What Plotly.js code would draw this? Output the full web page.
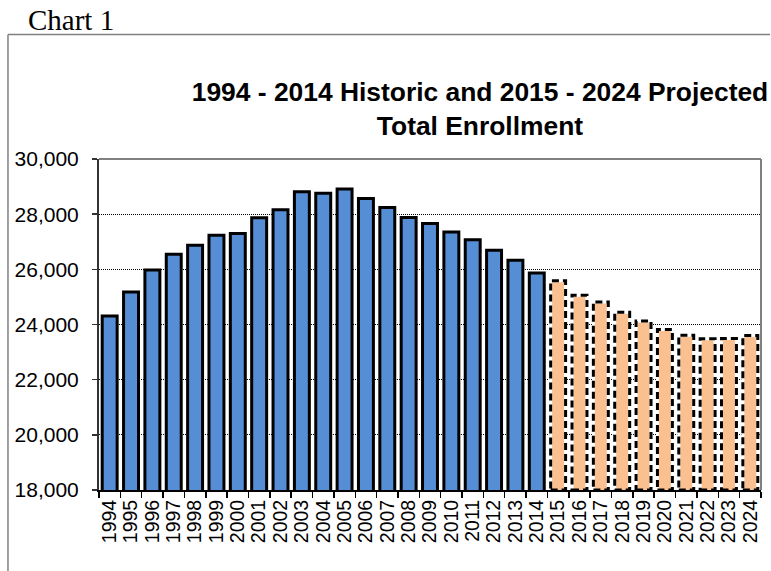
<!DOCTYPE html>
<html>
<head>
<meta charset="utf-8">
<script src="https://cdn.plot.ly/plotly-3.0.1.min.js"></script>
<style>
  html, body { margin: 0; padding: 0; background: #fff; }
  #chart { width: 771px; height: 571px; }
</style>
</head>
<body>
<div id="chart"></div>
<script>
// ---- Data ----
var historicYears = ["1994","1995","1996","1997","1998","1999","2000","2001","2002","2003","2004","2005","2006","2007","2008","2009","2010","2011","2012","2013","2014"];
var historicValues = [24310, 25180, 25980, 26550, 26870, 27240, 27300, 27870, 28160, 28810, 28760, 28910, 28570, 28240, 27880, 27660, 27350, 27070, 26690, 26330, 25870];
var projectedYears = ["2015","2016","2017","2018","2019","2020","2021","2022","2023","2024"];
var projectedValues = [25590, 25060, 24820, 24440, 24130, 23820, 23610, 23480, 23490, 23600];
var titleLines = ["1994 - 2014 Historic and 2015 - 2024 Projected", "Total Enrollment"];
var chartLabel = "Chart 1";

// ---- Style ----
var BAR_GAP = 0.3;
var Y_MIN = 18000, Y_MAX = 30000;
var allYears = historicYears.concat(projectedYears);

var traces = [
  {
    type: "bar",
    name: "Historic",
    x: historicYears,
    y: historicValues,
    marker: { color: "#558ED5", line: { color: "#000000", width: 3 } },
    hoverinfo: "x+y"
  },
  {
    type: "bar",
    name: "Projected",
    x: projectedYears,
    y: projectedValues,
    marker: { color: "#FAC090", line: { color: "#FFFFFF", width: 3 } },
    hoverinfo: "x+y"
  }
];

// dashed outlines for projected bars, positioned on the category axis by index
var half = (1 - BAR_GAP) / 2;
var shapes = projectedValues.map(function (v, j) {
  var idx = historicYears.length + j;
  return {
    type: "rect", xref: "x", yref: "y", layer: "above",
    x0: idx - half, x1: idx + half, y0: Y_MIN, y1: v,
    line: { color: "#000000", width: 3, dash: "7px,4px" },
    fillcolor: "rgba(0,0,0,0)"
  };
});
// plot frame (top & right, gray)
shapes.push({ type: "line", xref: "paper", yref: "paper", x0: 0, x1: 1, y0: 1, y1: 1,
  line: { color: "#808080", width: 2 } });
shapes.push({ type: "line", xref: "paper", yref: "paper", x0: 1, x1: 1, y0: 0, y1: 1,
  line: { color: "#808080", width: 2 } });
// outer chart border (top & left)
shapes.push({ type: "line", xref: "paper", yref: "paper", x0: -0.1375, x1: 1.0136, y0: 1.3759, y1: 1.3759,
  line: { color: "#808080", width: 1.5 } });
shapes.push({ type: "line", xref: "paper", yref: "paper", x0: -0.1375, x1: -0.1375, y0: -0.3, y1: 1.3759,
  line: { color: "#808080", width: 1.5 } });

var layout = {
  width: 771,
  height: 571,
  margin: { l: 99, r: 10, t: 159, b: 81, pad: 0 },
  paper_bgcolor: "#FFFFFF",
  plot_bgcolor: "#FFFFFF",
  showlegend: false,
  barmode: "overlay",
  bargap: BAR_GAP,
  font: { family: "Liberation Sans, Arial, sans-serif", color: "#000000" },
  title: {
    text: "<b>" + titleLines.join("<br>") + "</b>",
    font: { family: "Liberation Sans, Arial, sans-serif", size: 26.4, color: "#000000" },
    xref: "paper", x: 0.5755, xanchor: "center",
    yref: "container", y: 1 - 101 / 571, yanchor: "top"
  },
  xaxis: {
    type: "category",
    categoryorder: "array",
    categoryarray: allYears,
    tickmode: "array",
    tickvals: allYears,
    ticktext: allYears,
    tickson: "boundaries",
    ticks: "outside",
    ticklen: 6,
    tickwidth: 1.5,
    tickcolor: "#000000",
    tickangle: -90,
    tickfont: { size: 19.5, family: "Liberation Sans, Arial, sans-serif", color: "#000000" },
    showline: true,
    linecolor: "#000000",
    linewidth: 2,
    showgrid: false,
    zeroline: false,
    fixedrange: true
  },
  yaxis: {
    range: [Y_MIN, Y_MAX],
    dtick: 2000,
    tick0: Y_MIN,
    tickformat: ",d",
    ticks: "outside",
    ticklen: 5,
    tickwidth: 1.5,
    tickcolor: "#333333",
    ticklabelstandoff: 9,
    tickfont: { size: 21, family: "Liberation Sans, Arial, sans-serif", color: "#000000" },
    showline: true,
    linecolor: "#333333",
    linewidth: 2,
    showgrid: true,
    gridcolor: "#000000",
    gridwidth: 1,
    griddash: "1px,1px",
    zeroline: false,
    fixedrange: true
  },
  shapes: shapes,
  annotations: [
    {
      text: chartLabel,
      xref: "paper", yref: "paper",
      x: -0.110, y: 1.421,
      xanchor: "left", yanchor: "middle",
      showarrow: false,
      font: { family: "Liberation Serif, Times New Roman, serif", size: 29, color: "#000000" }
    }
  ]
};

Plotly.newPlot("chart", traces, layout, { displayModeBar: false, staticPlot: true });
</script>
</body>
</html>
